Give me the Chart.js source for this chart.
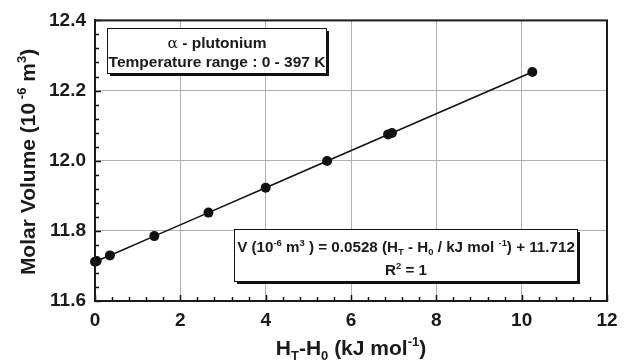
<!DOCTYPE html>
<html>
<head>
<meta charset="utf-8">
<script src="https://cdn.jsdelivr.net/npm/chart.js@4/dist/chart.umd.min.js"></script>
<style>
html,body{margin:0;padding:0;background:#fff;}
#wrap{width:634px;height:363px;position:relative;}
</style>
</head>
<body>
<div id="wrap"><canvas id="c" width="634" height="363"></canvas></div>
<script>
// ---- data ----
const xValues = [0, 0.04, 0.35, 1.39, 2.66, 4.0, 5.44, 6.87, 6.96, 10.25];
const yValues = [11.712, 11.714, 11.730, 11.785, 11.852, 11.923, 11.999, 12.075, 12.079, 12.253];
const xTickValues = [0, 2, 4, 6, 8, 10, 12];
const yTickValues = [11.6, 11.8, 12.0, 12.2, 12.4];
const boxTopLines = ["α - plutonium", "Temperature range : 0 - 397 K"];

const FONT = '"Liberation Sans", Arial, sans-serif';

function drawRich(ctx, segs, x, y, size, align) {
  let total = 0;
  const items = segs.map(sg => {
    const small = sg.s === 'sup' || sg.s === 'sub';
    const fs = small ? size * 0.62 : size;
    const w = sg.w || 'bold';
    const font = w + ' ' + fs + 'px ' + (sg.f || FONT);
    ctx.font = font;
    const width = ctx.measureText(sg.t).width;
    total += width;
    return {t: sg.t, font, width, dy: sg.s === 'sup' ? -size * 0.42 : (sg.s === 'sub' ? size * 0.22 : 0)};
  });
  let cx = align === 'center' ? x - total / 2 : (align === 'right' ? x - total : x);
  ctx.textAlign = 'left';
  ctx.textBaseline = 'alphabetic';
  items.forEach(it => {
    ctx.font = it.font;
    ctx.fillText(it.t, cx, y + it.dy);
    cx += it.width;
  });
}

const decorPlugin = {
  id: 'decor',
  afterDraw(chart) {
    const ctx = chart.ctx;
    const xs = chart.scales.x, ys = chart.scales.y;
    const a = chart.chartArea;
    ctx.save();
    ctx.strokeStyle = '#111';
    ctx.lineWidth = 1.5;
    for (let v = 0; v <= 12.0001; v += 0.4) {
      const px = Math.round(xs.getPixelForValue(v)) + 0.5;
      const major = Math.abs(v / 2 - Math.round(v / 2)) < 1e-6;
      const len = major ? 6 : 4;
      ctx.beginPath(); ctx.moveTo(px, a.bottom); ctx.lineTo(px, a.bottom - len); ctx.stroke();
    }
    for (let v = 11.6; v <= 12.4001; v += 0.04) {
      const py = Math.round(ys.getPixelForValue(v)) + 0.5;
      const major = Math.abs((v - 11.6) / 0.2 - Math.round((v - 11.6) / 0.2)) < 1e-4;
      const len = major ? 6 : 4;
      ctx.beginPath(); ctx.moveTo(a.left, py); ctx.lineTo(a.left + len, py); ctx.stroke();
    }
    ctx.strokeStyle = '#1a1a1a';
    ctx.lineWidth = 2;
    ctx.strokeRect(a.left, a.top, a.right - a.left, a.bottom - a.top);

    ctx.fillStyle = '#1a1a1a';
    drawRich(ctx, [{t:'H'},{t:'T',s:'sub'},{t:'-H'},{t:'0',s:'sub'},{t:' (kJ mol'},{t:'-1',s:'sup'},{t:')'}], 351, 355, 21, 'center');
    ctx.save();
    ctx.translate(35, 162);
    ctx.rotate(-Math.PI / 2);
    drawRich(ctx, [{t:'Molar Volume (10'},{t:' -6',s:'sup'},{t:' m'},{t:'3',s:'sup'},{t:')'}], 0, 0, 21, 'center');
    ctx.restore();

    function box(x1, y1, x2, y2) {
      ctx.fillStyle = '#111';
      ctx.fillRect(x1 + 3, y1 + 3, x2 - x1, y2 - y1);
      ctx.fillStyle = '#fff';
      ctx.fillRect(x1, y1, x2 - x1, y2 - y1);
      ctx.strokeStyle = '#111';
      ctx.lineWidth = 1;
      ctx.strokeRect(x1 + 0.5, y1 + 0.5, x2 - x1, y2 - y1);
      ctx.fillStyle = '#1a1a1a';
    }
    box(107, 28, 326, 73);
    drawRich(ctx, [{t:boxTopLines[0].slice(0,1), w:'normal', f:'"DejaVu Serif", serif'},{t:boxTopLines[0].slice(1)}], 217, 48, 15.5, 'center');
    drawRich(ctx, [{t:boxTopLines[1]}], 217, 67, 15.5, 'center');

    box(234, 229, 577, 281);
    drawRich(ctx, [{t:'V (10'},{t:'-6',s:'sup'},{t:' m'},{t:'3',s:'sup'},{t:' ) = 0.0528 (H'},{t:'T',s:'sub'},{t:' - H'},{t:'0',s:'sub'},{t:' / kJ mol '},{t:'-1',s:'sup'},{t:') + 11.712'}], 406, 252, 15.2, 'center');
    drawRich(ctx, [{t:'R'},{t:'2',s:'sup'},{t:' = 1'}], 406, 275, 15.2, 'center');
    ctx.restore();
  }
};

const points = xValues.map((x, i) => ({x, y: yValues[i]}));

new Chart(document.getElementById('c'), {
  type: 'scatter',
  data: {
    datasets: [{
      data: points,
      showLine: true,
      clip: false,
      borderColor: '#111',
      borderWidth: 1.6,
      pointRadius: 5,
      pointBackgroundColor: '#111',
      pointBorderColor: '#111',
      pointBorderWidth: 0
    }]
  },
  options: {
    responsive: false,
    animation: false,
    devicePixelRatio: 1,
    layout: {padding: {top: 17, right: 27, left: 0, bottom: 0}},
    plugins: {legend: {display: false}, tooltip: {enabled: false}},
    scales: {
      x: {
        type: 'linear', min: 0, max: 12,
        afterBuildTicks: s => { s.ticks = xTickValues.map(v => ({value: v})); },
        afterFit: s => { s.height = 62; },
        grid: {color: '#b0b0b0', lineWidth: 1, drawTicks: false},
        border: {display: true, color: '#1a1a1a', width: 2},
        ticks: {padding: 8, color: '#1a1a1a', font: {family: FONT, size: 19, weight: 'bold'}, maxRotation: 0,
          callback: v => String(v)}
      },
      y: {
        type: 'linear', min: 11.6, max: 12.4,
        afterBuildTicks: s => { s.ticks = yTickValues.map(v => ({value: v})); },
        afterFit: s => { s.width = 95; },
        grid: {color: '#b0b0b0', lineWidth: 1, drawTicks: false},
        border: {display: true, color: '#1a1a1a', width: 2},
        ticks: {padding: 9, color: '#1a1a1a', font: {family: FONT, size: 19, weight: 'bold'},
          callback: v => Number(v).toFixed(1)}
      }
    }
  },
  plugins: [decorPlugin]
});
</script>
</body>
</html>
